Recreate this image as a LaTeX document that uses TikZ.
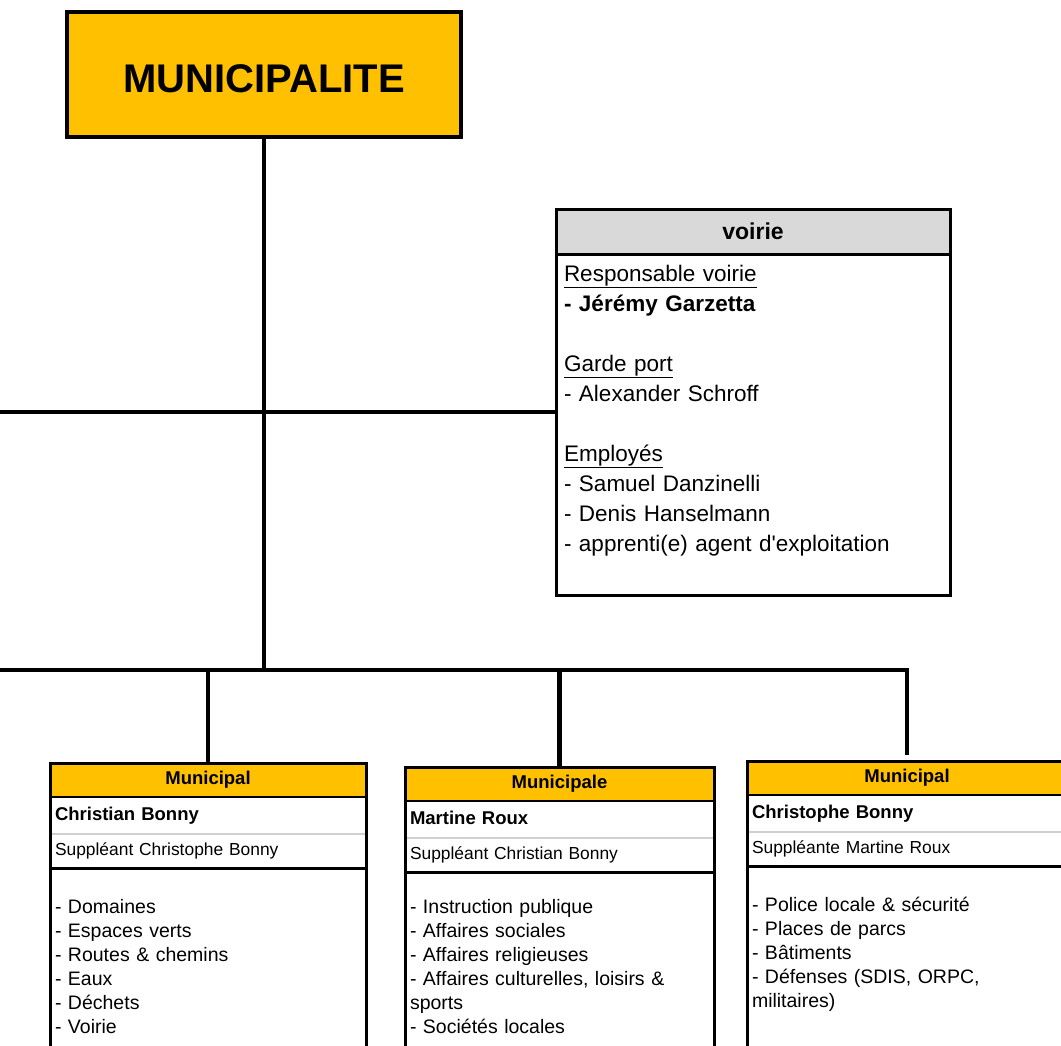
\documentclass[tikz,border=0pt]{standalone}
\usepackage{fontspec}
\setmainfont{Liberation Sans}
\usetikzlibrary{positioning}
\definecolor{orgold}{HTML}{FFC000}
\definecolor{hdgray}{HTML}{D9D9D9}
\definecolor{rowgray}{HTML}{D0D0D0}

\begin{document}
\begin{tikzpicture}[x=1pt,y=-1pt,
  every node/.style={outer sep=0pt},
  link/.style={line width=4.5pt},
  boxline/.style={line width=3pt},
  chef/.style={draw,line width=3.5pt,fill=orgold,minimum width=394pt,minimum height=125pt,inner sep=0pt,
    font=\fontsize{40}{48}\selectfont\bfseries,text height=35pt,text depth=0pt},
  voiriehead/.style={draw,line width=3pt,fill=hdgray,minimum width=394pt,minimum height=45pt,inner sep=0pt,
    font=\fontsize{23}{28}\selectfont\bfseries,text height=16pt,text depth=0pt},
  voiriebody/.style={text width=378pt,align=left,inner xsep=8pt,inner ysep=6pt,font=\fontsize{22.5}{30}\selectfont},
  cardhead/.style={draw,line width=2.5pt,fill=orgold,minimum width=#1,minimum height=34pt,inner sep=0pt,
    font=\fontsize{18.5}{22}\selectfont\bfseries,text height=13pt,text depth=4pt},
  cardname/.style={text width=#1,align=left,inner xsep=5pt,inner ysep=0pt,minimum height=37pt,
    font=\fontsize{18.5}{22}\selectfont\bfseries,text height=13pt,text depth=4pt},
  cardsub/.style={text width=#1,align=left,inner xsep=5pt,inner ysep=0pt,minimum height=34pt,
    font=\fontsize{17.4}{21}\selectfont,text height=12.5pt,text depth=3.5pt},
  cardbody/.style={text width=#1,align=left,inner xsep=5pt,inner ysep=29pt,font=\fontsize{19.5}{24}\selectfont}
]
\useasboundingbox (0,0) rectangle (1061,1045);
\clip (0,0) rectangle (1061,1045);
\coordinate (midL) at (0,412);
\coordinate (busL) at (0,670);
\coordinate (vbot) at (0,595);
\coordinate (bottom) at (0,1075);

\node[chef] (muni) at (264,74.5) {MUNICIPALITE};

\node[voiriehead] (vh) at (753,231.5) {voirie};
\node[voiriebody,below=0pt of vh] (vb) {\strut\underline{Responsable voirie}\\
  \textbf{- Jérémy Garzetta}\\ \mbox{}\\
  \underline{Garde port}\\
  - Alexander Schroff\\ \mbox{}\\
  \underline{Employés}\\
  - Samuel Danzinelli\\
  - Denis Hanselmann\\
  - apprenti(e) agent d\textquotesingle exploitation};
\draw[boxline] (vh.north west) rectangle (vh.east |- vbot);

\node[cardhead=316pt] (h1) at (208,780) {Municipal};
\node[cardname=306pt,below=0pt of h1] (n1) {Christian Bonny};
\node[cardsub=306pt,below=0pt of n1] (s1) {Suppléant Christophe Bonny};
\node[cardbody=306pt,below=0pt of s1] (b1) {\strut- Domaines\\- Espaces verts\\- Routes \& chemins\\- Eaux\\- Déchets\\- Voirie};

\node[cardhead=309pt] (h2) at (559.5,784) {Municipale};
\node[cardname=299pt,below=0pt of h2] (n2) {Martine Roux};
\node[cardsub=299pt,below=0pt of n2] (s2) {Suppléant Christian Bonny};
\node[cardbody=299pt,below=0pt of s2,yshift=4pt] (b2) {\strut- Instruction publique\\- Affaires sociales\\- Affaires religieuses\\- Affaires culturelles, loisirs \&\\sports\\- Sociétés locales};

\node[cardhead=320pt] (h3) at (907,778) {Municipal};
\node[cardname=310pt,below=0pt of h3] (n3) {Christophe Bonny};
\node[cardsub=310pt,below=0pt of n3] (s3) {Suppléante Martine Roux};
\node[cardbody=310pt,below=0pt of s3] (b3) {\strut- Police locale \& sécurité\\- Places de parcs\\- Bâtiments\\- Défenses (SDIS, ORPC,\\militaires)};

\foreach \c in {1,2,3}{
  \draw[rowgray,line width=1.2pt] (n\c.south west) -- (n\c.south east);
  \draw[boxline] (s\c.south west) -- (s\c.south east);
  \draw[boxline] (h\c.north west) rectangle (h\c.east |- bottom);
}

\draw[link] (muni.south) -- (muni.south |- busL);
\draw[link] (midL) -- (midL -| vh.west);
\draw[link] (busL) -- (busL -| h3.north) -- ([yshift=6pt]h3.north);
\draw[link] (h1.north) -- (h1.north |- busL);
\draw[link] (h2.north) -- (h2.north |- busL);
\end{tikzpicture}
\end{document}
